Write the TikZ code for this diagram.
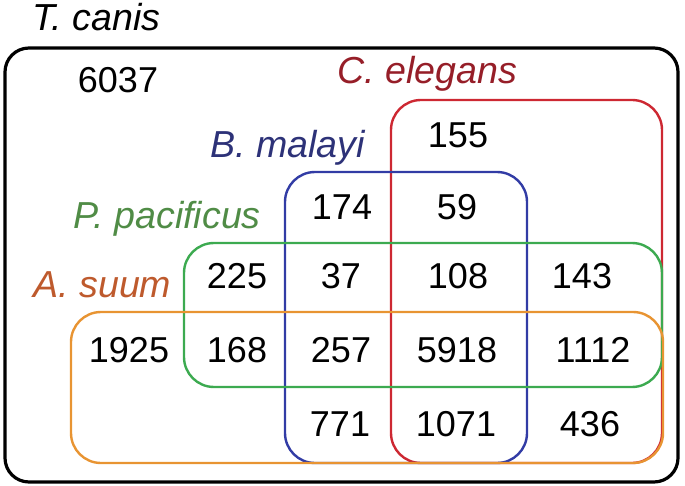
\documentclass[tikz,border=0pt]{standalone}
\usepackage{fontspec}
\setmainfont{Liberation Sans}
\usepackage{xcolor}
\usetikzlibrary{positioning}

\definecolor{canisline}{RGB}{0,0,0}
\definecolor{elegansline}{RGB}{205,40,50}
\definecolor{eleganstext}{RGB}{150,30,40}
\definecolor{malayiline}{RGB}{50,60,165}
\definecolor{malayitext}{RGB}{45,50,120}
\definecolor{pacificusline}{RGB}{60,170,80}
\definecolor{pacificustext}{RGB}{80,140,70}
\definecolor{suumline}{RGB}{232,148,50}
\definecolor{suumtext}{RGB}{190,90,45}

\begin{document}
\begin{tikzpicture}[
    x=0.5pt, y=-0.5pt,
    setbox/.style={rounded corners=15pt, line width=1.2pt},
    count/.style={font=\fontsize{18}{21}\selectfont, inner sep=0pt},
    species/.style={font=\fontsize{18.8}{22}\selectfont\itshape,
        anchor=base west, inner sep=0pt}
]
\useasboundingbox (0,0) rectangle (685,486);

% Sets
\draw[canisline, line width=1.6pt, rounded corners=12pt] (5,48) rectangle (678,482);
\draw[setbox, elegansline] (391,100) rectangle (662,463);
\draw[setbox, malayiline] (285,172) rectangle (527,463);
\draw[setbox, pacificusline] (184,243) rectangle (662,387);
\draw[setbox, suumline] (71,312) rectangle (663,463);

% Species names
\node[species] (tcanis) at (32,31) {T. canis};
\node[species, eleganstext] (celegans) at (337,84) {C. elegans};
\node[species, malayitext] (bmalayi) at (210,158) {B. malayi};
\node[species, pacificustext] (ppacificus) at (73,228) {P. pacificus};
\node[species, suumtext] (asuum) at (33,298) {A. suum};

% Counts
\node[count] (n6037) at (118,80) {6037};
\node[count] (n155) at (458,135) {155};
\node[count] (n174) at (342,207) {174};
\node[count] (n59) at (457,207) {59};
\node[count] (n225) at (237,276) {225};
\node[count] (n37) at (341,276) {37};
\node[count] (n108) at (458,276) {108};
\node[count] (n143) at (582,276) {143};
\node[count] (n1925) at (129,350) {1925};
\node[count] (n168) at (237,350) {168};
\node[count] (n257) at (341,350) {257};
\node[count] (n5918) at (457,350) {5918};
\node[count] (n1112) at (593,350) {1112};
\node[count] (n771) at (340,424) {771};
\node[count] (n1071) at (456,424) {1071};
\node[count] (n436) at (590,424) {436};

\end{tikzpicture}
\end{document}
